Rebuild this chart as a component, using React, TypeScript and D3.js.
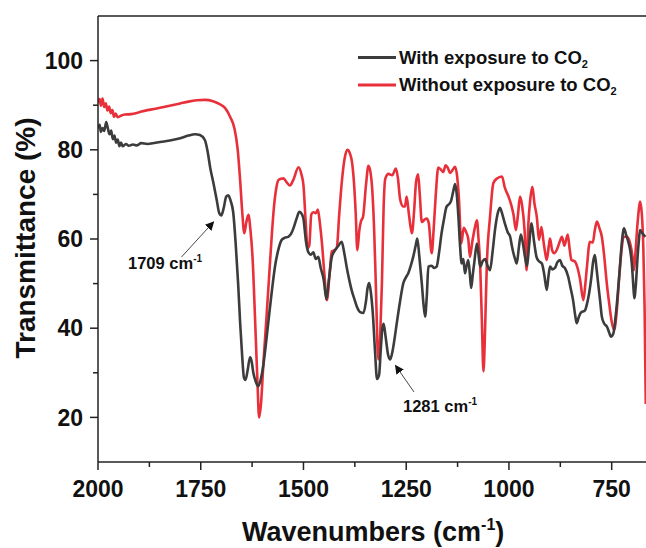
import React from 'react';
import * as d3 from 'd3';

// FTIR spectra: wavenumber (cm-1) and transmittance (%)
const withWn = [
  2000, 1996, 1993, 1989, 1985, 1980, 1976, 1972, 1968, 1964, 1960, 1956, 1952, 1948, 1944, 1940,
  1932, 1925, 1915, 1905, 1895, 1880, 1860, 1845, 1825, 1800, 1780, 1764, 1752, 1740, 1733, 1727,
  1719, 1711, 1705, 1700, 1694, 1688, 1683, 1677, 1671, 1665, 1659, 1654, 1649, 1645, 1641, 1636,
  1630, 1626, 1622, 1616, 1610, 1604, 1598, 1592, 1586, 1578, 1569, 1560, 1553, 1545, 1537, 1530,
  1524, 1517, 1510, 1504, 1500, 1494, 1488, 1482, 1476, 1470, 1464, 1458, 1451, 1444, 1438, 1431,
  1423, 1415, 1407, 1401, 1395, 1389, 1383, 1376, 1370, 1362, 1354, 1348, 1344, 1340, 1336, 1331,
  1326, 1321, 1316, 1312, 1308, 1305, 1300, 1294, 1289, 1283, 1277, 1273, 1265, 1257, 1250, 1245,
  1239, 1233, 1227, 1223, 1218, 1212, 1208, 1204, 1200, 1196, 1188, 1182, 1176, 1170, 1164, 1158,
  1152, 1146, 1141, 1136, 1131, 1127, 1123, 1119, 1115, 1111, 1107, 1103, 1099, 1095, 1092, 1088,
  1084, 1078, 1074, 1070, 1064, 1058, 1052, 1046, 1040, 1034, 1028, 1022, 1016, 1010, 1003, 997,
  993, 989, 985, 981, 976, 971, 966, 961, 956, 951, 945, 939, 933, 927, 920, 914,
  908, 904, 900, 894, 888, 882, 876, 870, 864, 856, 850, 844, 839, 835, 830, 825,
  815, 810, 805, 800, 795, 791, 787, 783, 778, 774, 768, 762, 756, 752, 746, 740,
  735, 730, 725, 720, 715, 710, 705, 701, 697, 695, 691, 687, 684, 681, 677, 673, 668,
];
const withT = [
  84.8, 85.6, 84.0, 84.9, 84.2, 86.2, 84.8, 83.5, 84.3, 82.4, 83.2, 81.6, 82.3, 80.8, 81.6, 80.8,
  81.3, 80.9, 81.2, 81.0, 81.5, 81.3, 81.6, 81.8, 82.1, 82.6, 83.2, 83.5, 83.3, 82.2, 79.5, 76.0,
  72.5, 68.7, 65.8, 65.3, 67.0, 69.5, 69.8, 68.5, 66.0, 59.0, 50.0, 41.0, 33.5, 29.0, 28.4, 30.5,
  33.5, 32.5, 30.0, 28.0, 27.0, 28.5, 31.5, 36.0, 41.0, 47.5, 54.0, 58.0, 59.8, 60.3, 60.5, 61.2,
  62.5, 64.5, 66.1, 65.6, 64.5, 59.5, 57.0, 56.5, 57.0, 55.5, 56.0, 53.5, 51.0, 46.5, 51.0, 56.0,
  57.5, 58.5, 59.4, 57.0, 53.8, 51.0, 48.6, 46.5, 44.8, 43.6, 43.4, 46.0, 49.0, 50.1, 48.0, 43.0,
  35.0, 28.6, 29.5, 35.1, 40.0, 41.0, 38.0, 34.0, 33.0, 35.0, 38.5, 41.1, 46.0, 50.1, 51.5, 52.3,
  54.0, 56.0, 58.5, 60.1, 56.0, 50.0, 45.5, 42.6, 47.0, 53.8, 54.0, 53.5, 53.8, 57.0, 61.3, 64.5,
  67.2, 67.8, 68.5, 70.5, 72.3, 70.0, 65.0, 58.5, 54.5, 55.5, 52.3, 54.0, 55.3, 52.0, 49.0, 52.0,
  55.0, 59.0, 56.5, 53.8, 55.0, 55.5, 54.0, 53.0, 57.0, 62.0, 65.5, 67.0, 65.5, 63.5, 61.5, 60.5,
  58.5, 56.8, 55.5, 54.5, 58.0, 61.0, 59.0, 56.0, 54.0, 58.5, 63.5, 59.5, 56.0, 55.0, 54.5, 52.0,
  48.6, 51.5, 53.8, 53.2, 53.5, 54.8, 55.3, 54.0, 53.5, 51.6, 49.0, 46.3, 43.0, 41.1, 42.5, 43.5,
  44.0, 45.5, 47.8, 51.0, 55.0, 56.4, 53.5, 50.1, 46.0, 42.6, 41.0, 40.4, 39.0, 38.1, 38.8, 43.0,
  48.0, 53.8, 59.5, 62.4, 61.0, 59.5, 57.5, 54.5, 49.0, 46.7, 50.0, 56.0, 59.5, 62.0, 61.5, 61.0, 60.5,
];

const withoutWn = [
  2000, 1996, 1993, 1989, 1985, 1981, 1977, 1973, 1969, 1965, 1961, 1957, 1952, 1945, 1935, 1920,
  1900, 1880, 1860, 1840, 1820, 1800, 1780, 1760, 1740, 1720, 1705, 1691, 1678, 1668, 1660, 1654,
  1649, 1644, 1639, 1634, 1629, 1624, 1618, 1612, 1608, 1603, 1598, 1590, 1584, 1577, 1572, 1566,
  1560, 1549, 1540, 1533, 1525, 1512, 1505, 1500, 1495, 1490, 1486, 1481, 1476, 1470, 1465, 1460,
  1455, 1449, 1443, 1437, 1431, 1425, 1419, 1413, 1407, 1400, 1393, 1387, 1382, 1377, 1373, 1369,
  1364, 1360, 1355, 1348, 1342, 1337, 1333, 1328, 1324, 1318, 1313, 1309, 1305, 1301, 1293, 1284,
  1275, 1270, 1265, 1258, 1253, 1249, 1244, 1239, 1236, 1231, 1226, 1221, 1217, 1212, 1206, 1200,
  1195, 1188, 1183, 1178, 1172, 1166, 1160, 1154, 1149, 1143, 1137, 1131, 1126, 1122, 1116, 1110,
  1104, 1099, 1095, 1089, 1083, 1078, 1074, 1070, 1066, 1062, 1058, 1054, 1046, 1038, 1030, 1017,
  1010, 1001, 994, 989, 983, 978, 973, 968, 962, 957, 953, 948, 943, 938, 932, 927,
  921, 916, 912, 908, 903, 900, 895, 890, 883, 876, 871, 865, 857, 852, 848, 840,
  833, 827, 819, 814, 810, 803, 796, 791, 786, 780, 774, 768, 762, 756, 750, 744,
  738, 732, 726, 721, 713, 705, 700, 696, 692, 688, 684, 681, 677, 673, 670, 667,
];
const withoutT = [
  90.6, 91.4, 89.9, 91.5, 89.6, 90.4, 88.8, 89.7, 88.2, 88.9, 87.4, 88.1, 87.3, 87.6, 87.9, 88.0,
  88.4, 88.9, 89.2, 89.6, 90.0, 90.4, 90.8, 91.1, 91.2, 90.9, 90.3, 89.4, 87.3, 84.8, 80.0, 73.0,
  66.0, 61.3, 63.8, 65.4, 62.0, 56.0, 42.6, 28.0, 20.0, 23.5, 31.4, 42.5, 51.0, 61.0, 67.0, 71.5,
  73.3, 73.6, 72.6, 72.0, 73.2, 76.1, 74.5, 72.0, 64.5, 58.0, 58.5, 65.5, 66.0, 65.8, 66.6, 63.5,
  59.0, 52.0, 46.3, 51.5, 57.2, 57.5, 58.0, 65.5, 72.5, 78.0, 80.0, 79.2, 77.3, 72.5, 66.0, 57.5,
  62.0, 64.0, 65.0, 72.0, 76.4, 75.0, 71.5, 62.0, 50.0, 33.0, 39.0, 50.5, 67.0, 73.5, 74.6, 74.3,
  75.8, 73.5, 69.0, 67.3, 67.3, 69.5, 66.0, 62.5, 61.3, 66.0, 72.8, 74.5, 70.0, 63.8, 64.3, 64.6,
  63.5, 56.8, 62.5, 70.0, 76.0, 75.6, 75.0, 76.5, 76.0, 74.8, 75.5, 76.2, 74.0, 69.5, 59.0, 62.5,
  61.5, 60.0, 56.0, 59.5, 62.5, 64.2, 60.0, 54.0, 42.0, 30.3, 40.0, 53.8, 65.0, 72.5, 73.5, 74.0,
  71.5, 69.5, 67.5, 65.5, 62.0, 65.5, 69.5, 67.5, 62.0, 53.0, 63.0, 69.0, 71.7, 68.0, 64.8, 59.8,
  62.7, 59.5, 57.0, 55.3, 58.5, 60.1, 57.5, 56.8, 57.7, 59.5, 60.5, 58.5, 61.0, 57.5, 55.3, 55.0,
  53.5, 51.0, 46.3, 50.0, 54.0, 59.4, 59.2, 62.0, 63.9, 62.5, 60.5, 56.0, 50.1, 45.5, 41.5, 39.6,
  43.5, 51.0, 57.5, 60.5, 60.5, 59.0, 56.5, 53.0, 57.0, 62.5, 66.5, 68.4, 66.0, 58.0, 45.0, 23.0,
];

const xTicksMajor = [2000, 1750, 1500, 1250, 1000, 750];
const xTicksMinor = [1875, 1625, 1375, 1125, 875];
const yTicksMajor = [20, 40, 60, 80, 100];
const yTicksMinor = [30, 50, 70, 90];

const seriesLabels = ['With exposure to CO', 'Without exposure to CO'];
const annotations = [
  { wn: 1709, t: 65.4, label: '1709' },
  { wn: 1281, t: 33.0, label: '1281' },
];

const W = 646;
const H = 548;
const left = 98;
const right = 646;
const top = 16;
const bottom = 462;
const FONT = "'Liberation Sans', Arial, Helvetica, sans-serif";
const BLACK = '#3c3c3c';
const RED = '#e8303a';

export default function App() {
  const x = d3.scaleLinear().domain([2000, 666.5]).range([left, right]);
  const y = d3.scaleLinear().domain([10, 110]).range([bottom, top]);

  const line = d3
    .line<[number, number]>()
    .x((d) => x(d[0]))
    .y((d) => y(d[1]))
    .curve(d3.curveMonotoneX);

  const withPts = withWn.map((w, i) => [w, withT[i]] as [number, number]);
  const withoutPts = withoutWn.map((w, i) => [w, withoutT[i]] as [number, number]);

  // arrow tips sit just beside the labelled minima
  const a1x = x(annotations[0].wn) - 4;
  const a1y = y(annotations[0].t) + 7;
  const a2x = x(annotations[1].wn) + 2;
  const a2y = y(annotations[1].t) + 6;

  return (
    <svg
      width={W}
      height={H}
      style={{ position: 'absolute', left: 0, top: 0, background: '#fff' }}
      fontFamily={FONT}
    >
      <defs>
        <clipPath id="plot-clip">
          <rect x={left} y={top} width={right - left} height={bottom - top} />
        </clipPath>
        <marker
          id="arrowhead"
          viewBox="0 0 10 10"
          refX="9"
          refY="5"
          markerWidth="9"
          markerHeight="9"
          markerUnits="userSpaceOnUse"
          orient="auto"
        >
          <path d="M0,0 L10,5 L0,10 z" fill="#111" />
        </marker>
      </defs>

      <g clipPath="url(#plot-clip)">
        <path d={line(withoutPts) || ''} fill="none" stroke={RED} strokeWidth={2.6} strokeLinejoin="round" />
        <path d={line(withPts) || ''} fill="none" stroke={BLACK} strokeWidth={2.6} strokeLinejoin="round" />
      </g>

      {/* frame */}
      <line x1={left} x2={right} y1={top} y2={top} stroke="#222" strokeWidth={1.5} />
      <line x1={left} x2={left} y1={top} y2={bottom} stroke="#222" strokeWidth={1.5} />
      <line x1={left} x2={right} y1={bottom} y2={bottom} stroke="#222" strokeWidth={1.5} />

      {/* x axis */}
      {xTicksMajor.map((t) => (
        <g key={'xM' + t}>
          <line x1={x(t)} x2={x(t)} y1={bottom} y2={bottom + 8} stroke="#222" strokeWidth={1.5} />
          <text x={x(t)} y={497} textAnchor="middle" fontSize={23} fontWeight="bold" fill="#111">
            {t}
          </text>
        </g>
      ))}
      {xTicksMinor.map((t) => (
        <line key={'xm' + t} x1={x(t)} x2={x(t)} y1={bottom} y2={bottom + 5} stroke="#222" strokeWidth={1.5} />
      ))}

      {/* y axis */}
      {yTicksMajor.map((t) => (
        <g key={'yM' + t}>
          <line x1={left - 8} x2={left} y1={y(t)} y2={y(t)} stroke="#222" strokeWidth={1.5} />
          <text x={83} y={y(t)} dy="0.36em" textAnchor="end" fontSize={23} fontWeight="bold" fill="#111">
            {t}
          </text>
        </g>
      ))}
      {yTicksMinor.map((t) => (
        <line key={'ym' + t} x1={left - 5} x2={left} y1={y(t)} y2={y(t)} stroke="#222" strokeWidth={1.5} />
      ))}

      {/* axis titles */}
      <text
        transform={`translate(35, ${(118 + 358) / 2}) rotate(-90)`}
        textAnchor="middle"
        fontSize={28}
        fontWeight="bold"
        fill="#111"
      >
        Transmittance (%)
      </text>
      <text x={242} y={541} fontSize={27} fontWeight="bold" fill="#111">
        Wavenumbers (cm
        <tspan dy={-11} fontSize={16}>-1</tspan>
        <tspan dy={11}>)</tspan>
      </text>

      {/* legend */}
      <line x1={358} x2={396} y1={57.5} y2={57.5} stroke={BLACK} strokeWidth={3} />
      <text x={399} y={63.5} fontSize={18.5} fontWeight="bold" fill="#111">
        {seriesLabels[0]}
        <tspan dy={4} fontSize={11}>2</tspan>
      </text>
      <line x1={358} x2={396} y1={85} y2={85} stroke={RED} strokeWidth={3} />
      <text x={399} y={91} fontSize={18.5} fontWeight="bold" fill="#111">
        {seriesLabels[1]}
        <tspan dy={4} fontSize={11}>2</tspan>
      </text>

      {/* peak annotations */}
      <line x1={181.5} y1={257} x2={a1x} y2={a1y} stroke="#333" strokeWidth={0.9} markerEnd="url(#arrowhead)" />
      <text x={128} y={268.5} fontSize={16.5} fontWeight="bold" fill="#111">
        {annotations[0].label} cm
        <tspan dy={-7} fontSize={10}>-1</tspan>
      </text>
      <line x1={414} y1={392} x2={a2x} y2={a2y} stroke="#333" strokeWidth={0.9} markerEnd="url(#arrowhead)" />
      <text x={403} y={411.5} fontSize={16.5} fontWeight="bold" fill="#111">
        {annotations[1].label} cm
        <tspan dy={-7} fontSize={10}>-1</tspan>
      </text>
    </svg>
  );
}
